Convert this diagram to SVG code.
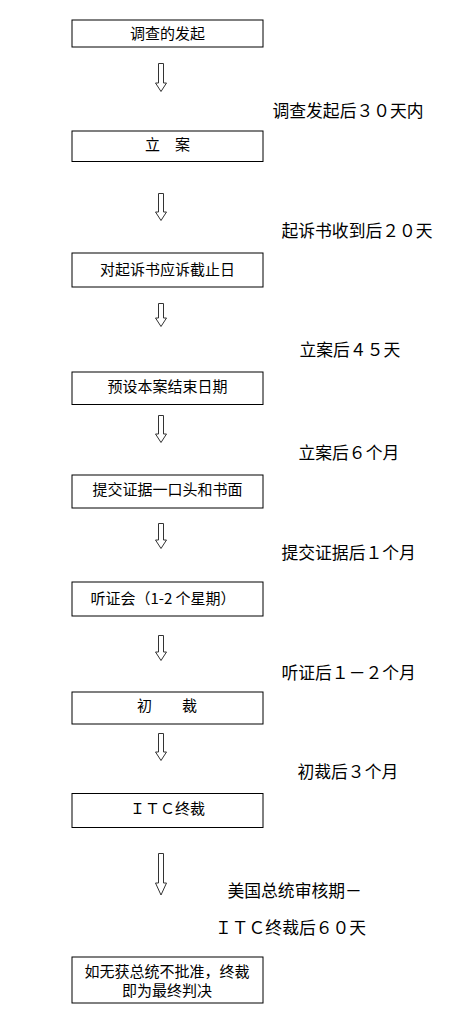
<svg xmlns="http://www.w3.org/2000/svg" width="449" height="1022" viewBox="0 0 449 1022">
<style>
.box{fill:#fff;stroke:#000;stroke-width:1}
.arr{fill:#fff;stroke:#333;stroke-width:1;stroke-linejoin:miter}
.bt{font-family:"Noto Sans CJK SC","Liberation Sans",sans-serif;font-size:15px;fill:#000;text-anchor:middle}
.lb{font-family:"Noto Sans CJK SC","Liberation Sans",sans-serif;font-size:16.8px;fill:#000}
</style>
<rect width="449" height="1022" fill="#fff"/>
<g id="connectors">
<path class="arr" d="M158.5,63.5H163.5V83H166.5L161,91.5L155.5,83H158.5Z"/>
<path class="arr" d="M158.5,193.5H163.5V212H166.5L161,220.5L155.5,212H158.5Z"/>
<path class="arr" d="M158.5,303.5H163.5V318H166.5L161,326.5L155.5,318H158.5Z"/>
<path class="arr" d="M158.5,415.5H163.5V434H166.5L161,442.5L155.5,434H158.5Z"/>
<path class="arr" d="M158.5,523.5H163.5V540H166.5L161,548.5L155.5,540H158.5Z"/>
<path class="arr" d="M158.5,635.5H163.5V652H166.5L161,660.5L155.5,652H158.5Z"/>
<path class="arr" d="M158.5,733.5H163.5V752H166.5L161,760.5L155.5,752H158.5Z"/>
<path class="arr" d="M158.5,853.5H163.5V883H166.5L161,895L155.5,883H158.5Z"/>
</g>
<g id="labels">
<text class="lb" x="272.5" y="117.4">调查发起后３０天内</text>
<text class="lb" x="281.5" y="237.4">起诉书收到后２０天</text>
<text class="lb" x="299.5" y="355.9">立案后４５天</text>
<text class="lb" x="298.5" y="458.9">立案后６个月</text>
<text class="lb" x="281.5" y="558.9">提交证据后１个月</text>
<text class="lb" x="281.5" y="678.9">听证后１－２个月</text>
<text class="lb" x="297.5" y="777.9">初裁后３个月</text>
<text class="lb" x="227.5" y="897.4">美国总统审核期－</text>
<text class="lb" x="215" y="933.9">ＩＴＣ终裁后６０天</text>
</g>
<g id="n1"><rect class="box" x="72" y="20" width="191" height="27"/><text class="bt" x="167.5" y="39.3">调查的发起</text></g>
<g id="n2"><rect class="box" x="72" y="131" width="191" height="30.5"/><text class="bt" x="167.5" y="150.3">立　案</text></g>
<g id="n3"><rect class="box" x="72" y="253" width="191" height="34"/><text class="bt" x="167.5" y="275.3">对起诉书应诉截止日</text></g>
<g id="n4"><rect class="box" x="72" y="372" width="191" height="32.5"/><text class="bt" x="167.5" y="392.3">预设本案结束日期</text></g>
<g id="n5"><rect class="box" x="72" y="475" width="191" height="33"/><text class="bt" x="167.5" y="495.3">提交证据一口头和书面</text></g>
<g id="n6"><rect class="box" x="72" y="582" width="191" height="34"/><text class="bt" x="163" y="604.3">听证会（1-2 个星期）</text></g>
<g id="n7"><rect class="box" x="72" y="692" width="191" height="32"/><text class="bt" x="167" y="711.3">初　　裁</text></g>
<g id="n8"><rect class="box" x="72" y="793.5" width="191" height="34"/><text class="bt" x="167.5" y="814.3">ＩＴＣ终裁</text></g>
<g id="n9"><rect class="box" x="72" y="957" width="191" height="46"/><text class="bt" x="167" y="977.1">如无获总统不批准，终裁</text><text class="bt" x="167" y="995.5">即为最终判决</text></g>
</svg>
